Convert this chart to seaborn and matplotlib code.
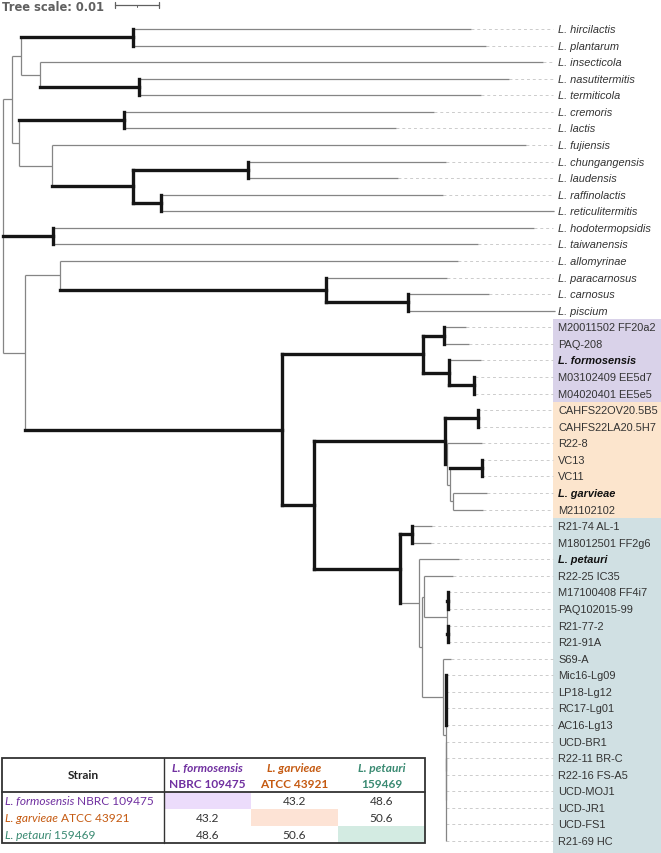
import numpy as np
import matplotlib
matplotlib.use("Agg")
import matplotlib.pyplot as plt
from matplotlib.colors import ListedColormap
from matplotlib.patches import Rectangle
import seaborn as sns

# ---- tree data (Newick, branch lengths in substitutions/site, '*' = well supported clade) ----
clade_top = ("(('L. hircilactis':0.0768,'L. plantarum':0.0802)*:0.0255,"
             "('L. insecticola':0.1143,('L. nasutitermitis':0.0839,'L. termiticola':0.0777)*:0.0225):0.0045):0.002")
clade_lactis = ("(('L. cremoris':0.0705,'L. lactis':0.0618)*:0.0239,"
                "('L. fujiensis':0.1077,(('L. chungangensis':0.045,'L. laudensis':0.0341)*:0.0261,"
                "('L. raffinolactis':0.0641,'L. reticulitermitis':0.0893)*:0.0064)*:0.0184):0.0075):0.0016")
clade_hodo = "('L. hodotermopsidis':0.1093,'L. taiwanensis':0.0966)*:0.0114"
clade_carnosus = ("('L. allomyrinae':0.0905,('L. paracarnosus':0.0275,"
                  "('L. carnosus':0.0184,'L. piscium':0.0334)*:0.0186)*:0.0605):0.008")
clade_formosensis = ("(('M20011502 FF20a2':0.005,'PAQ-208':0.0057)*:0.0048,"
                     "('L. formosensis':0.0073,('M03102409 EE5d7':0.0002,'M04020401 EE5e5':0.0002)*:0.0057)*:0.0059)*:0.032")
clade_garvieae = ("(('CAHFS22OV20.5B5':0.0,'CAHFS22LA20.5H7':0.0)*:0.0075,"
                  "('R22-8':0.008,(('VC13':0.0,'VC11':0.0)*:0.0073,"
                  "('L. garvieae':0.0077,'M21102102':0.0068):0.0007):0.0007):0.00045)*:0.0298")
clade_petauri = ("(('R21-74 AL-1':0.0045,'M18012501 FF2g6':0.0043)*:0.0027,"
                 "('L. petauri':0.0091,(('R22-25 IC35':0.0066,"
                 "(('M17100408 FF4i7':0,'PAQ102015-99':0)*:0.0002,('R21-77-2':0,'R21-91A':0)*:0.0002):0.0052):0.00045,"
                 "('S69-A':0.0018,(('Mic16-Lg09':0,'LP18-Lg12':0,'RC17-Lg01':0,'AC16-Lg13':0)*:0,"
                 "('UCD-BR1':0,('R22-11 BR-C':0,'R22-16 FS-A5':0,'UCD-MOJ1':0,'UCD-JR1':0,'UCD-FS1':0,'R21-69 HC':0):0):0):0.0007)"
                 ":0.0048):0.0007):0.0043)*:0.0195")

newick = ("((" + clade_top + "," + clade_lactis + "):0.002," + clade_hodo + ",("
          + clade_carnosus + ",(" + clade_formosensis + ",(" + clade_garvieae + "," + clade_petauri
          + ")*:0.0073)*:0.0584):0.005);")

type_strains = ["L. formosensis", "L. garvieae", "L. petauri"]
groups = [("M20011502 FF20a2", "M04020401 EE5e5", "#d9d2e9"),
          ("CAHFS22OV20.5B5", "M21102102", "#fce5cd"),
          ("R21-74 AL-1", "R21-69 HC", "#d0e0e3")]
scale_value = 0.01

# ---- ANI table data ----
strain_names = ["L. formosensis", "L. garvieae", "L. petauri"]
strain_ids = ["NBRC 109475", "ATCC 43921", "159469"]
strain_colors = ["#7030a0", "#c55a11", "#3a8a72"]
cell_colors = ["#ffffff", "#ecdcfb", "#fde3d5", "#d3ebe2"]
ani_values = [[None, 43.2, 48.6],
              [43.2, None, 50.6],
              [48.6, 50.6, None]]


def parse_newick(s):
    pos = 0

    def node():
        nonlocal pos
        children = []
        if s[pos] == "(":
            pos += 1
            while True:
                children.append(node())
                if s[pos] == ",":
                    pos += 1
                    continue
                pos += 1
                break
        if s[pos] == "'":
            end = s.index("'", pos + 1)
            name = s[pos + 1:end]
            pos = end + 1
        else:
            start = pos
            while s[pos] not in ":,);":
                pos += 1
            name = s[start:pos]
        length = 0.0
        if s[pos] == ":":
            pos += 1
            start = pos
            while s[pos] not in ",);":
                pos += 1
            length = float(s[start:pos])
        return {"name": name, "length": length, "children": children}

    return node()


def layout(n, x, leaves):
    n["x"] = x + n["length"]
    if not n["children"]:
        n["y"] = len(leaves)
        leaves.append(n)
    else:
        for c in n["children"]:
            layout(c, n["x"], leaves)
        n["y"] = (n["children"][0]["y"] + n["children"][-1]["y"]) / 2


tree = parse_newick(newick)
tree["length"] = 0.0
leaves = []
layout(tree, 0.0, leaves)
leaf_index = {l["name"]: l["y"] for l in leaves}

sns.set_theme(style="white")
plt.rcParams["font.family"] = ["Liberation Sans", "DejaVu Sans"]

W, H = 661, 854
fig = plt.figure(figsize=(W / 100, H / 100), dpi=100)
ax = fig.add_axes([0, 0, 1, 1])
px_per_unit = 4400
root_px, row0_px, row_px = 3, 30, 16.57
ax.set_xlim(-root_px / px_per_unit, (W - root_px) / px_per_unit)
ax.set_ylim((H - row0_px) / row_px, -row0_px / row_px)
ax.axis("off")


def xd(p):
    return (p - root_px) / px_per_unit


def yd(p):
    return (p - row0_px) / row_px


label_x = xd(558)
thin = dict(color="#858585", lw=0.9, solid_capstyle="butt", zorder=2)
thick = dict(color="#151515", lw=2.4, solid_capstyle="projecting", zorder=3)

# colored label backgrounds
for first, last, col in groups:
    y0 = leaf_index[first] - 0.5
    y1 = leaf_index[last] + 0.5
    if last == leaves[-1]["name"]:
        y1 = ax.get_ylim()[0]
    ax.add_patch(Rectangle((xd(553), y0), xd(W + 5) - xd(553), y1 - y0,
                           facecolor=col, edgecolor="none", zorder=0))


def draw(n, parent_x):
    strong = n["name"] == "*"
    if parent_x is not None:
        ax.plot([parent_x, n["x"]], [n["y"], n["y"]], **(thick if strong else thin))
    if n["children"]:
        ys = [c["y"] for c in n["children"]]
        ax.plot([n["x"], n["x"]], [ys[0], ys[-1]], **(thick if strong else thin))
        for c in n["children"]:
            draw(c, n["x"])
    else:
        ax.plot([n["x"], xd(553)], [n["y"], n["y"]], color="#cccccc", lw=0.7,
                dashes=(3, 3), zorder=1)
        name = n["name"]
        if name in type_strains:
            ax.text(label_x, n["y"], name, fontsize=7.9, style="italic", weight="bold",
                    color="#111111", va="center", ha="left", zorder=4)
        elif name.startswith("L. "):
            ax.text(label_x, n["y"], name, fontsize=7.9, style="italic",
                    color="#333333", va="center", ha="left", zorder=4)
        else:
            ax.text(label_x, n["y"], name, fontsize=7.9,
                    color="#333333", va="center", ha="left", zorder=4)


draw(tree, None)

# tree scale
ax.text(xd(2), yd(8), "Tree scale: %g" % scale_value, fontsize=8.3, weight="bold",
        color="#606060", va="center", ha="left", family="DejaVu Sans")
sb0 = xd(115)
sb1 = sb0 + scale_value
ax.plot([sb0, sb1], [yd(6), yd(6)], color="#606060", lw=0.9)
for sx in [sb0, sb1]:
    ax.plot([sx, sx], [yd(3), yd(9)], color="#606060", lw=0.9)
ax.plot([(sb0 + sb1) / 2] * 2, [yd(6), yd(8)], color="#606060", lw=0.7)

# ---- ANI table ----
tl, tr, tt, tb, hdr, c0 = 2, 425, 759, 844, 793, 164
pix = fig.add_axes([0, 0, 1, 1], facecolor="none")
pix.set_xlim(0, W)
pix.set_ylim(H, 0)
pix.axis("off")
pix.add_patch(Rectangle((tl, tt), tr - tl, tb - tt, facecolor="white", edgecolor="none", zorder=0))

hax = fig.add_axes([c0 / W, (H - tb) / H, (tr - c0) / W, (tb - hdr) / H])
n_s = len(strain_names)
kind = np.array([[i + 1 if i == j else 0 for j in range(n_s)] for i in range(n_s)])
annot = np.array([["" if v is None else "%.1f" % v for v in row] for row in ani_values])
sns.heatmap(kind, cmap=ListedColormap(cell_colors), vmin=-0.5, vmax=3.5, annot=annot, fmt="",
            cbar=False, xticklabels=False, yticklabels=False, linewidths=0, ax=hax,
            annot_kws={"fontsize": 8.6, "color": "#333333", "family": "Lato"})
hax.set_xlabel("")
hax.set_ylabel("")

top = fig.add_axes([0, 0, 1, 1], facecolor="none")
top.set_xlim(0, W)
top.set_ylim(H, 0)
top.axis("off")
top.add_patch(Rectangle((tl, tt), tr - tl, tb - tt, facecolor="none", edgecolor="#333333", lw=1.3))
top.plot([tl, tr], [hdr, hdr], color="#333333", lw=1.3)
top.plot([c0, c0], [tt, tb], color="#333333", lw=1.0)
tfont = dict(family="Lato", fontsize=8.6)
top.text((tl + c0) / 2, (tt + hdr) / 2, "Strain", weight="bold", color="#222222",
         ha="center", va="center", **tfont)
col_w = (tr - c0) / n_s
row_h = (tb - hdr) / n_s
fig.canvas.draw()
renderer = fig.canvas.get_renderer()
inv = top.transData.inverted()
for i in range(n_s):
    cx = c0 + col_w * (i + 0.5)
    top.text(cx, tt + 9.5, strain_names[i], style="italic", weight="bold", color=strain_colors[i],
             ha="center", va="center", **tfont)
    top.text(cx, tt + 25.5, strain_ids[i], weight="bold", color=strain_colors[i],
             ha="center", va="center", **tfont)
    ry = hdr + row_h * (i + 0.5)
    t1 = top.text(tl + 3, ry, strain_names[i], style="italic", color=strain_colors[i],
                  ha="left", va="center", **tfont)
    bb = t1.get_window_extent(renderer)
    x_end = inv.transform((bb.x1, bb.y0))[0]
    top.text(x_end, ry, " " + strain_ids[i], color=strain_colors[i], ha="left", va="center", **tfont)

fig.savefig("out.png", dpi=100)
